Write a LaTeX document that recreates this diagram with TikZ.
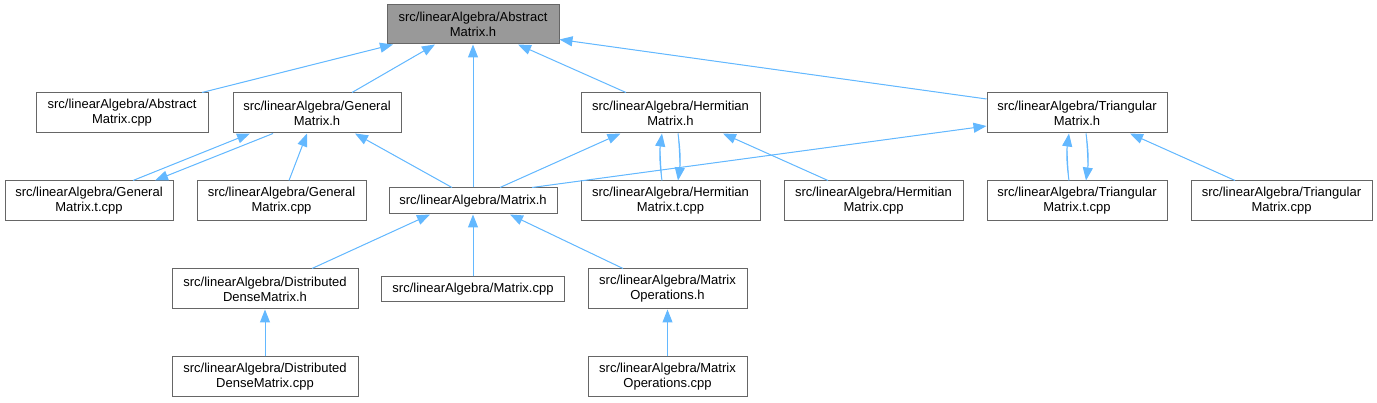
\documentclass[tikz,border=0pt]{standalone}
\usepackage{fontspec}
\setmainfont{Liberation Sans}
\usetikzlibrary{arrows.meta,positioning}

\definecolor{edgeblue}{RGB}{99,184,255}
\definecolor{boxline}{RGB}{102,102,102}
\definecolor{boxfill}{RGB}{153,153,153}

\begin{document}
\begin{tikzpicture}[
  x=1pt, y=-1pt,
  font=\fontsize{13}{15}\selectfont,
  file/.style={
    draw=boxline,
    line width=1pt,
    align=center,
    minimum height=40pt,
    inner sep=2pt,
    fill=white
  },
  current/.style={
    file,
    fill=boxfill,
    minimum height=39pt
  },
  single/.style={
    file,
    minimum height=26pt
  },
  incl/.style={-{Triangle[length=13pt,width=10pt]}, draw=edgeblue, fill=edgeblue, line width=1pt}
]
\useasboundingbox (0,0) rectangle (1377,403);

% Root header
\node[current, minimum width=172pt] (abs_h) at (473, 24.5) {src/linearAlgebra/Abstract\\Matrix.h};

% First level
\node[file, minimum width=172pt] (abs_cpp) at (122, 113) {src/linearAlgebra/Abstract\\Matrix.cpp};
\node[file, minimum width=168pt] (gen_h) at (317, 113) {src/linearAlgebra/General\\Matrix.h};
\node[file, minimum width=179pt] (herm_h) at (670.5, 113) {src/linearAlgebra/Hermitian\\Matrix.h};
\node[file, minimum width=180pt] (tri_h) at (1077, 113) {src/linearAlgebra/Triangular\\Matrix.h};

% Second level
\node[file, minimum width=168pt] (gen_tcpp) at (89, 201) {src/linearAlgebra/General\\Matrix.t.cpp};
\node[file, minimum width=169pt] (gen_cpp) at (281.5, 201) {src/linearAlgebra/General\\Matrix.cpp};
\node[single, minimum width=168pt] (mat_h) at (473, 201) {src/linearAlgebra/Matrix.h};
\node[file, minimum width=179pt] (herm_tcpp) at (670.5, 201) {src/linearAlgebra/Hermitian\\Matrix.t.cpp};
\node[file, minimum width=179pt] (herm_cpp) at (873.5, 201) {src/linearAlgebra/Hermitian\\Matrix.cpp};
\node[file, minimum width=180pt] (tri_tcpp) at (1077, 201) {src/linearAlgebra/Triangular\\Matrix.t.cpp};
\node[file, minimum width=181pt] (tri_cpp) at (1281.5, 201) {src/linearAlgebra/Triangular\\Matrix.cpp};

% Third level
\node[file, minimum width=186pt] (dist_h) at (265, 289) {src/linearAlgebra/Distributed\\DenseMatrix.h};
\node[single, minimum width=183pt, minimum height=25pt] (mat_cpp) at (473, 289.5) {src/linearAlgebra/Matrix.cpp};
\node[file, minimum width=159pt] (ops_h) at (667.5, 289) {src/linearAlgebra/Matrix\\Operations.h};

% Fourth level
\node[file, minimum width=186pt] (dist_cpp) at (265, 377) {src/linearAlgebra/Distributed\\DenseMatrix.cpp};
\node[file, minimum width=159pt] (ops_cpp) at (667.5, 377) {src/linearAlgebra/Matrix\\Operations.cpp};

% Includes of AbstractMatrix.h
\draw[incl] ([xshift=80]abs_cpp.north) -- ([xshift=-80]abs_h.south);
\draw[incl] ([xshift=35]gen_h.north) -- ([xshift=-38]abs_h.south);
\draw[incl] (mat_h.north) -- (abs_h.south);
\draw[incl] ([xshift=-44.5]herm_h.north) -- ([xshift=45]abs_h.south);
\draw[incl] ([yshift=14]tri_h.west) -- ([yshift=-15]abs_h.east);

% GeneralMatrix.h
\draw[incl] ([xshift=44]gen_tcpp.north) -- ([xshift=-67]gen_h.south);
\draw[incl] ([xshift=-44]gen_h.south) -- ([xshift=66]gen_tcpp.north);
\draw[incl] ([xshift=7.5]gen_cpp.north) -- ([xshift=-10]gen_h.south);
\draw[incl] ([xshift=-21]mat_h.north) -- ([xshift=38]gen_h.south);

% HermitianMatrix.h
\draw[incl] ([xshift=27]mat_h.north) -- ([xshift=-50]herm_h.south);
\draw[incl] ([xshift=-8.5]herm_tcpp.north) to[bend left=8] ([xshift=-8.5]herm_h.south);
\draw[incl] ([xshift=7.5]herm_h.south) to[bend left=8] ([xshift=7.5]herm_tcpp.north);
\draw[incl] ([xshift=-45.5]herm_cpp.north) -- ([xshift=52.5]herm_h.south);

% TriangularMatrix.h
\draw[incl] ([xshift=59]mat_h.north) -- ([yshift=-13]tri_h.west);
\draw[incl] ([xshift=-8]tri_tcpp.north) to[bend left=8] ([xshift=-8]tri_h.south);
\draw[incl] ([xshift=9]tri_h.south) to[bend left=8] ([xshift=9]tri_tcpp.north);
\draw[incl] ([xshift=-46.5]tri_cpp.north) -- ([xshift=53]tri_h.south);

% Matrix.h and below
\draw[incl] ([xshift=47]dist_h.north) -- ([xshift=-43]mat_h.south);
\draw[incl] (mat_cpp.north) -- (mat_h.south);
\draw[incl] ([xshift=-44.5]ops_h.north) -- ([xshift=37]mat_h.south);
\draw[incl] (dist_cpp.north) -- (dist_h.south);
\draw[incl] (ops_cpp.north) -- (ops_h.south);

\end{tikzpicture}
\end{document}
